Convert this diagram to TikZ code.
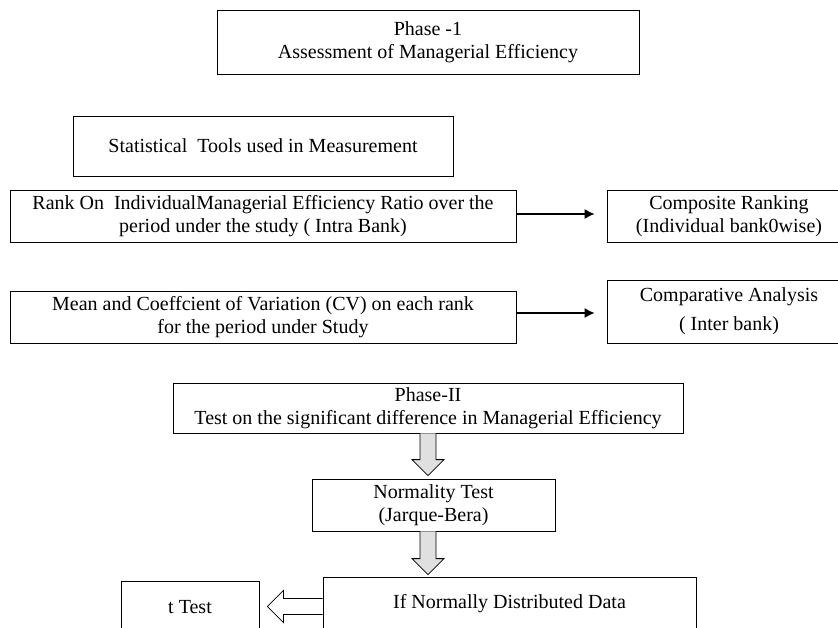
\documentclass[tikz,border=0pt]{standalone}
\usepackage{fontspec}
\setmainfont{Liberation Serif}
\usetikzlibrary{calc,arrows.meta}
\begin{document}
\begin{tikzpicture}[x=1pt,y=-1pt,
  font=\fontsize{20}{23}\selectfont,
  box/.style={draw=black, line width=0.8pt, inner sep=0pt, align=center},
  blockfill/.style={draw=black, line width=0.8pt, fill=black!12},
  hollow/.style={draw=black, line width=0.8pt, fill=white},
  conn/.style={draw=black, line width=1.3pt, -{Latex[length=10pt,width=10pt]}}]
\useasboundingbox (0,0) rectangle (838,628);
\clip (0,0) rectangle (838,628);
\fill[white] (0,0) rectangle (838,628);

\node[box, minimum width=422pt, minimum height=64pt] (p1) at (428,42)
  {Phase -1\\Assessment of Managerial Efficiency};
\node[box, minimum width=380pt, minimum height=60pt] (stat) at (263,146)
  {Statistical\ \ Tools used in Measurement};
\node[box, minimum width=506pt, minimum height=52pt] (rank) at (263,216)
  {Rank On\ \ IndividualManagerial Efficiency Ratio over the\\period under the study ( Intra Bank)};
\node[box, minimum width=244pt, minimum height=52pt] (comp) at (729,216)
  {Composite Ranking\\(Individual bank0wise)};
\node[box, minimum width=506pt, minimum height=52pt] (mean) at (263,317)
  {Mean and Coeffcient of Variation (CV) on each rank\\for the period under Study};
\node[box, minimum width=244pt, minimum height=63pt] (compa) at (729,311.5)
  {Comparative Analysis\\[6pt]( Inter bank)};
\node[box, minimum width=510pt, minimum height=50pt] (p2) at (428,408)
  {Phase-II\\Test on the significant difference in Managerial Efficiency};
\node[box, minimum width=243pt, minimum height=52pt] (norm) at (433.5,505)
  {Normality Test\\(Jarque-Bera)};
\node[box, minimum width=373pt, minimum height=53pt] (ifbox) at (509.5,603.5)
  {If Normally Distributed Data};
\node[box, minimum width=138pt, minimum height=52pt] (ttest) at (190,607)
  {t Test};

% thin arrows
\draw[conn] ([yshift=2pt]rank.east) -- ([yshift=2pt,xshift=-12pt]rank.east -| comp.west);
\draw[conn] ([yshift=4pt]mean.east) -- ([yshift=4pt,xshift=-12pt]mean.east -| compa.west);

% block arrows down
\coordinate (a1s) at (p2.south);
\coordinate (a1t) at ([yshift=3pt]norm.north -| p2.south);
\coordinate (a2s) at (norm.south -| p2.south);
\coordinate (a2t) at ([yshift=2pt]ifbox.north -| p2.south);
\foreach \s/\t in {a1s/a1t, a2s/a2t}{
  \draw[blockfill] ($(\s)+(-8,0)$) -- ($(\t)+(-8,-16)$) -- ($(\t)+(-16,-16)$) -- (\t)
    -- ($(\t)+(16,-16)$) -- ($(\t)+(8,-16)$) -- ($(\s)+(8,0)$);
}

% hollow arrow left
\coordinate (hs) at ([yshift=-3pt]ifbox.west);
\coordinate (ht) at ([xshift=8pt]hs -| ttest.east);
\draw[hollow] (hs) ++(0,-8) -- ($(ht)+(16,-8)$) -- ($(ht)+(16,-16)$) -- (ht)
  -- ($(ht)+(16,16)$) -- ($(ht)+(16,8)$) -- ($(hs)+(0,8)$);
\end{tikzpicture}
\end{document}
